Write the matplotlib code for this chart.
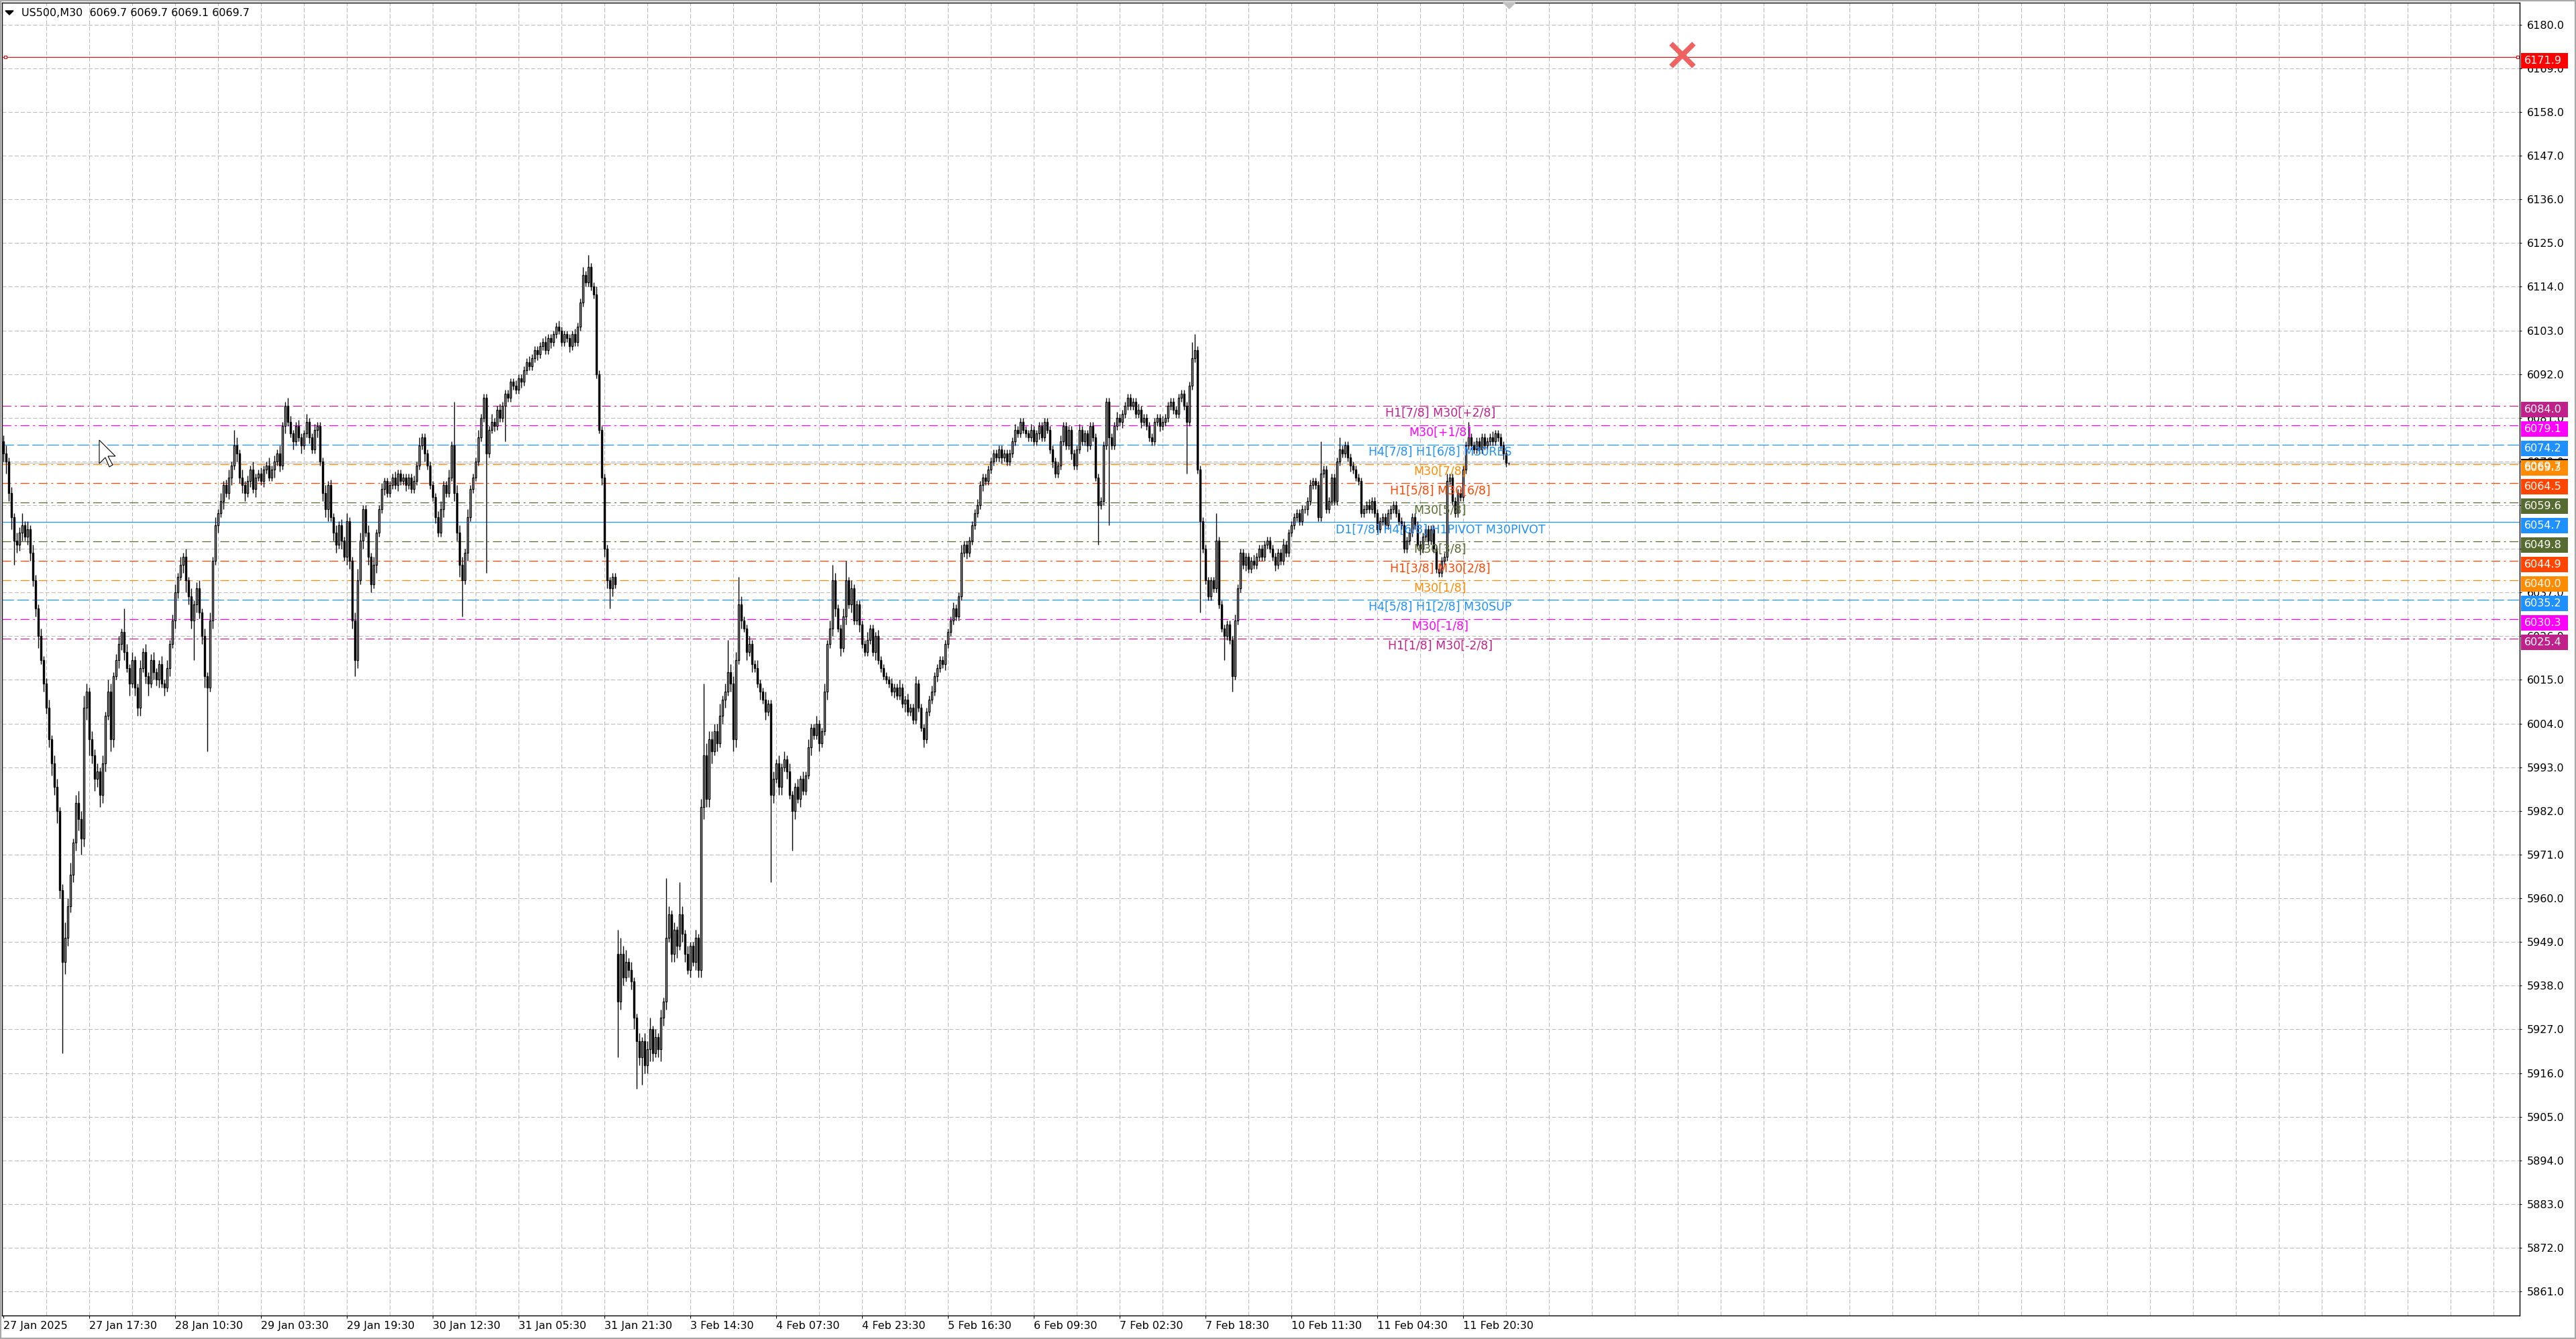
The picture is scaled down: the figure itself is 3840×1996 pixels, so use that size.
import matplotlib
matplotlib.use("Agg")
import matplotlib.pyplot as plt
import matplotlib.transforms as mtransforms
from matplotlib.patches import Rectangle, Polygon

plt.rcParams['font.family'] = ['DejaVu Sans']
plt.rcParams['lines.scale_dashes'] = False

title_text = "US500,M30  6069.7 6069.7 6069.1 6069.7"

# M30 closes, one per bar
closes = [
    6072, 6070, 6062, 6056, 6050, 6049, 6052, 6054, 6051, 6053,
    6047, 6040, 6033, 6026, 6020, 6014, 6008, 6000, 5994, 5988,
    5982, 5962, 5944, 5950, 5958, 5966, 5974, 5984, 5980, 5975,
    6008, 6012, 6000, 5996, 5990, 5992, 5986, 5994, 6006, 6012,
    6000, 6016, 6020, 6024, 6027, 6022, 6018, 6014, 6020, 6013,
    6008, 6018, 6022, 6016, 6014, 6020, 6017, 6015, 6019, 6014,
    6013, 6018, 6024, 6030, 6037, 6041, 6044, 6046, 6040, 6036,
    6030, 6034, 6038, 6032, 6026, 6016, 6013, 6030, 6045, 6054,
    6057, 6060, 6064, 6062, 6066, 6069, 6074, 6072, 6066, 6064,
    6062, 6065, 6068, 6063, 6066, 6067, 6065, 6068, 6069, 6066,
    6068, 6070, 6072, 6069, 6079, 6084, 6080, 6077, 6075, 6079,
    6076, 6074, 6077, 6080, 6076, 6073, 6078, 6079, 6070, 6062,
    6058, 6064, 6056, 6052, 6049, 6054, 6050, 6046, 6055, 6045,
    6030, 6020, 6040, 6050, 6058, 6052, 6046, 6039, 6044, 6052,
    6058, 6063, 6065, 6062, 6064, 6066, 6064, 6067, 6065, 6066,
    6064, 6066, 6063, 6065, 6069, 6074, 6076, 6072, 6069, 6064,
    6061, 6056, 6052, 6058, 6064, 6062, 6066, 6074, 6062, 6052,
    6044, 6040, 6047, 6056, 6063, 6066, 6070, 6076, 6081, 6086,
    6072, 6078, 6080, 6079, 6083, 6081, 6084, 6087, 6086, 6090,
    6089, 6088, 6091, 6090, 6093, 6095, 6094, 6096, 6098, 6097,
    6099, 6100, 6098, 6101, 6100, 6102, 6104, 6103, 6100, 6102,
    6101, 6099, 6102, 6100, 6104, 6110, 6117, 6115, 6119, 6114,
    6112, 6092, 6078, 6066, 6048, 6040, 6038, 6041, 6039, 5934,
    5946, 5940, 5944, 5942, 5939, 5930, 5924, 5920, 5924, 5918,
    5922, 5927, 5921, 5925, 5922, 5930, 5934, 5950, 5956, 5946,
    5952, 5948, 5956, 5951, 5946, 5942, 5948, 5944, 5950, 5942,
    5983, 5996, 5985, 6000, 5997, 6002, 5999, 6006, 6010, 6012,
    6017, 6014, 6000, 6020, 6034, 6030, 6028, 6022, 6024, 6019,
    6018, 6014, 6012, 6010, 6007, 6009, 5986, 5990, 5994, 5988,
    5993, 5995, 5992, 5986, 5982, 5988, 5985, 5990, 5987, 5991,
    5998, 6003, 6001, 6004, 5999, 6002, 6012, 6024, 6028, 6040,
    6033, 6028, 6023, 6031, 6040, 6034, 6038, 6030, 6034, 6029,
    6024, 6022, 6025, 6028, 6022, 6026, 6020, 6018, 6016, 6015,
    6014, 6012, 6013, 6011, 6013, 6009, 6010, 6007, 6008, 6005,
    6014, 6008, 6003, 6000, 6007, 6010, 6012, 6016, 6018, 6020,
    6019, 6024, 6027, 6030, 6033, 6031, 6036, 6047, 6049, 6047,
    6050, 6054, 6057, 6059, 6064, 6066, 6065, 6068, 6070, 6072,
    6071, 6073, 6071, 6072, 6070, 6072, 6075, 6078, 6077, 6080,
    6078, 6077, 6076, 6078, 6075, 6077, 6079, 6076, 6080, 6078,
    6073, 6070, 6067, 6069, 6075, 6079, 6074, 6078, 6072, 6069,
    6073, 6078, 6075, 6077, 6074, 6079, 6076, 6066, 6059, 6060,
    6074, 6085, 6076, 6074, 6079, 6081, 6080, 6082, 6084, 6086,
    6084, 6085, 6082, 6083, 6080, 6081, 6079, 6076, 6075, 6080,
    6081, 6079, 6080, 6081, 6084, 6085, 6083, 6082, 6086, 6087,
    6084, 6080, 6089, 6096, 6098, 6068, 6055, 6048, 6040, 6036,
    6040, 6038, 6050, 6034, 6028, 6026, 6029, 6025, 6016, 6030,
    6038, 6047, 6044, 6046, 6043, 6045, 6044, 6046, 6048, 6046,
    6049, 6050, 6048, 6046, 6044, 6047, 6045, 6049, 6047, 6052,
    6054, 6056, 6057, 6055, 6058, 6058, 6060, 6064, 6065, 6064,
    6056, 6067, 6068, 6058, 6060, 6066, 6060, 6070, 6073, 6072,
    6074, 6071, 6069, 6068, 6066, 6065, 6057, 6058, 6059, 6058,
    6060, 6057, 6053, 6055, 6056, 6054, 6057, 6058, 6059, 6057,
    6055, 6054, 6048, 6050, 6052, 6056, 6054, 6049, 6048, 6051,
    6053, 6050, 6053, 6048, 6043, 6042, 6045, 6046, 6065, 6066,
    6060, 6057, 6062, 6061, 6068, 6074, 6076, 6074, 6073, 6075,
    6073, 6076, 6074, 6075, 6076, 6075, 6077, 6076, 6074, 6072,
    6069.7, 6069.7,
]

# upper / lower shadow length in points above/below the body
wick_up = [
    1.5, 2, 1, 1.5, 1, 2, 1.5, 3, 1, 2,
    1, 2, 1.5, 1, 2, 1, 1.5, 2, 1, 2,
    2, 1, 1.5, 4, 2, 3, 1, 2, 3, 2,
    3, 2, 1, 2, 1.5, 2, 1, 2, 1, 3,
    2, 1, 1.5, 2, 1, 6, 2, 1, 2, 1,
    1, 2, 1, 2, 1, 1.5, 2, 1, 1, 2,
    1, 2, 1, 1.5, 2, 1, 2, 1, 2, 1,
    2, 1, 1.5, 2, 1, 2, 1, 2, 1, 2,
    1, 2, 1, 1.5, 2, 1, 4, 2, 1, 2,
    1, 1.5, 1, 2, 1, 1, 1.5, 1, 1, 2,
    1, 1.5, 1, 2, 1, 1, 2, 1.5, 1, 1,
    1.5, 1, 1, 2, 1, 1, 1.5, 1, 1, 1,
    2, 1, 1.5, 1, 2, 1, 1.5, 1, 2, 1,
    1, 2, 3, 2, 1, 1, 2, 1, 2, 1,
    1, 1.5, 1, 1, 1, 1, 1.5, 1, 1, 1,
    1, 1, 1, 1.5, 1, 2, 1, 1, 1, 1,
    1, 1, 1.5, 2, 1, 1, 2, 1, 11, 2,
    2, 2, 1, 2, 1, 1, 1, 2, 1, 1,
    1, 1, 2, 1, 1, 1.5, 1, 1, 1, 1,
    1, 1.5, 1, 1, 1, 1, 1.5, 1, 1, 1,
    1, 1, 1.5, 1, 1, 1, 1, 1.5, 1, 1,
    1, 1, 1, 1.5, 1, 1, 2, 1, 3, 1,
    1, 2, 1, 1, 1, 1, 1, 1, 1, 6,
    4, 2, 3, 1, 2, 1, 1, 2, 1, 2,
    2, 3, 1, 2, 1, 2, 1, 15, 2, 1,
    2, 1, 8, 2, 1, 2, 1, 1, 2, 1,
    2, 18, 3, 2, 2, 2, 2, 3, 1, 2,
    8, 2, 2, 2, 7, 2, 1, 1, 2, 1,
    1, 2, 1, 1, 2, 1, 1, 2, 1, 2,
    1, 2, 1, 2, 1, 1, 2, 1, 2, 1,
    2, 1, 1, 2, 1, 1, 2, 1, 2, 4,
    2, 1, 1, 2, 5, 1, 2, 1, 1, 1,
    1, 1, 2, 1, 1, 1, 1.5, 1, 1, 1,
    1, 1.5, 1, 1, 2, 1, 1, 1.5, 1, 1,
    2, 1, 1, 1, 1, 1, 1.5, 1, 1, 1,
    1, 1, 1, 1, 1.5, 1, 1, 2, 1, 1,
    1, 1, 1, 1.5, 1, 1, 1, 1, 1, 1,
    1, 1, 1, 1, 1, 1, 1, 1.5, 1, 1,
    1, 1, 1, 1.5, 1, 1, 1, 1, 1, 1,
    1, 1, 1, 1, 1.5, 1, 1, 1, 1, 1,
    1, 1.5, 1, 1, 1, 1, 1, 1, 1, 1,
    1, 1, 1, 1, 1, 1.5, 1, 1, 1, 1,
    1, 1, 1, 1.5, 1, 1, 1, 1, 1, 1,
    1, 1, 1.5, 1, 1, 1, 1, 1, 1, 1,
    1, 1, 1, 4, 4, 1, 1, 1, 1, 1,
    1, 1, 7, 1, 1, 1, 1, 1, 1, 1.5,
    1, 1, 1, 1, 1, 1, 1.5, 1, 1, 1,
    1, 1, 1, 1, 1, 1, 1, 1.5, 1, 1,
    1, 1, 1, 1, 1, 1, 1, 1.5, 1, 1,
    1, 8, 1, 1, 1, 1, 1, 1, 3, 1,
    1, 1, 1, 1, 1, 1, 1, 1, 1, 1.5,
    1, 1, 1, 1, 1, 1, 1, 1, 1, 1,
    1, 1, 1, 1, 1.5, 1, 1, 1, 1, 1,
    1, 1, 1, 1, 1, 1, 1, 1, 2, 1,
    1, 1, 1, 1, 1, 1, 4, 1, 1, 1,
    1, 1, 1, 1, 1, 1.5, 1, 1, 1, 1,
    1, 0,
]
wick_dn = [
    2, 3, 2, 3, 6, 2, 1.5, 2, 1, 2,
    2, 1.5, 2, 3, 1, 2, 1.5, 2, 3, 2,
    3, 2, 23, 3, 2, 1.5, 2, 2, 3, 4,
    2, 3, 4, 2, 3, 2, 3, 2, 2, 1,
    3, 2, 1, 2, 1.5, 2, 1, 3, 1, 2,
    2, 2, 1, 2, 3, 1, 2, 1.5, 2, 1,
    2, 1, 2, 1, 2, 1.5, 1, 2, 3, 2,
    2, 10, 2, 1.5, 2, 3, 16, 1, 2, 1,
    2, 1, 2, 1, 1.5, 2, 1, 2, 1.5, 2,
    2, 1, 1.5, 1, 2, 1, 1, 1.5, 1, 1,
    1, 2, 1, 1.5, 1, 2, 1, 1, 2, 1,
    1, 2, 1, 1, 1.5, 1, 1, 2, 1, 2,
    2, 3, 1, 2, 2, 1, 2, 1, 2, 2,
    2, 4, 2, 1, 2, 1, 2, 2, 1, 2,
    1, 1, 1.5, 1, 1, 1, 1, 1.5, 1, 1,
    1.5, 1, 1, 1, 1, 1, 1, 2, 1, 1,
    1, 1.5, 1, 1, 2, 1, 1, 1, 2, 2,
    3, 9, 1, 2, 1, 1, 1, 1, 1, 1,
    30, 1, 1, 1.5, 1, 1, 1, 9, 1, 1,
    1, 1, 1, 1.5, 1, 1, 1, 1, 1, 1.5,
    1, 1, 1, 1, 1.5, 1, 1, 1, 1, 1,
    1, 1.5, 1, 1, 1, 1, 1, 1, 1, 1,
    1, 1, 1, 2, 2, 2, 5, 2, 1, 14,
    2, 2, 1, 2, 2, 3, 12, 2, 7, 2,
    2, 3, 2, 1, 2, 3, 2, 2, 1, 2,
    2, 3, 1, 2, 2, 1, 2, 1, 2, 2,
    2, 3, 2, 2, 3, 1, 2, 1, 2, 2,
    1, 2, 3, 2, 1, 2, 1, 2, 1, 2,
    1, 1, 2, 1, 2, 1, 22, 2, 1, 2,
    2, 1, 2, 1, 10, 2, 1, 2, 1, 1,
    1, 2, 1, 1, 2, 1, 1, 2, 1, 2,
    2, 1, 2, 1, 2, 1, 2, 1, 1, 2,
    1, 1, 1, 1, 1, 2, 1, 1, 1, 1,
    1, 1, 1.5, 1, 1, 1, 2, 1, 1, 1,
    1, 1, 1, 2, 1, 1, 1, 1, 1.5, 1,
    1, 1.5, 1, 1, 1, 1, 1, 1, 1, 1.5,
    1, 1, 1, 1, 1, 1.5, 1, 1, 1, 1,
    1, 1, 1.5, 1, 1, 1, 1, 1, 1, 1,
    1, 1, 1, 1, 1, 1, 1.5, 1, 1, 1,
    1, 1.5, 1, 1, 1, 1, 1, 1, 1.5, 1,
    1, 1, 1, 1, 1.5, 1, 1, 1, 10, 1,
    1, 1, 22, 1, 1, 1, 1, 1.5, 1, 1,
    1, 1, 1, 1, 1.5, 1, 1, 1, 1, 1,
    1, 1.5, 1, 1, 1, 1, 1, 1, 1, 1,
    1, 13, 1, 1, 1, 1, 23, 1, 1, 1,
    1, 1, 1, 1, 1, 6, 1, 1, 4, 1,
    1, 1, 1, 1.5, 1, 1, 1, 1, 1, 1,
    1, 1, 1, 1, 1.5, 1, 1, 1, 1, 1,
    1, 1, 1, 1, 1, 1, 1.5, 1, 1, 1,
    1, 1, 1, 1, 1, 1, 1, 1, 1, 1,
    1, 1, 1.5, 1, 1, 1, 1, 1, 1, 1,
    1, 1, 1, 1, 1, 1, 1, 1.5, 1, 1,
    1, 1, 1, 1, 1, 1, 1, 1, 1.5, 1,
    1, 1, 1, 1, 1, 1, 1, 1, 1, 1,
    1, 1, 1, 1, 1, 1, 1, 1, 1, 1,
    1, 1, 1, 1, 1, 1, 1, 1, 1, 1.5,
    1, 0.6,
]

# opens where the bar does not start at the previous close (start, weekend gap)
session_opens = {0: 6075.0, 229: 5946.0}

time_labels = ["27 Jan 2025", "27 Jan 17:30", "28 Jan 10:30", "29 Jan 03:30",
               "29 Jan 19:30", "30 Jan 12:30", "31 Jan 05:30", "31 Jan 21:30",
               "3 Feb 14:30", "4 Feb 07:30", "4 Feb 23:30", "5 Feb 16:30",
               "6 Feb 09:30", "7 Feb 02:30", "7 Feb 18:30", "10 Feb 11:30",
               "11 Feb 04:30", "11 Feb 20:30"]
bars_per_label = 32
bars_per_grid = 16

price_ticks = [6180.0, 6169.0, 6158.0, 6147.0, 6136.0, 6125.0, 6114.0, 6103.0,
               6092.0, 6081.0, 6070.0, 6059.0, 6048.0, 6037.0, 6026.0, 6015.0,
               6004.0, 5993.0, 5982.0, 5971.0, 5960.0, 5949.0, 5938.0, 5927.0,
               5916.0, 5905.0, 5894.0, 5883.0, 5872.0, 5861.0]

levels = [6084.0, 6079.1, 6074.2, 6069.3, 6064.5, 6059.6, 6054.7,
          6049.8, 6044.9, 6040.0, 6035.2, 6030.3, 6025.4]
level_names = ["H1[7/8] M30[+2/8]", "M30[+1/8]", "H4[7/8] H1[6/8] M30RES",
               "M30[7/8]", "H1[5/8] M30[6/8]", "M30[5/8]",
               "D1[7/8] H4[6/8] H1PIVOT M30PIVOT", "M30[3/8]",
               "H1[3/8] M30[2/8]", "M30[1/8]", "H4[5/8] H1[2/8] M30SUP",
               "M30[-1/8]", "H1[1/8] M30[-2/8]"]
level_colors = ["#c0208a", "#ff00ff", "#1e90ff", "#ff8c00", "#ff4500",
                "#556b2f", "#1e90ff", "#556b2f", "#ff4500", "#ff8c00",
                "#1e90ff", "#ff00ff", "#c0208a"]
level_kinds = ["dashdot", "dashdot", "dash", "dashdot", "dashdot", "dashdot",
               "solid", "dashdot", "dashdot", "dashdot", "dash", "dashdot",
               "dashdot"]
label_bar = 535.5

alert_price = 6171.9
bid_price = 6069.7
closed_order = (625.75, 6172.4)

n = len(closes)
opens = [session_opens.get(i, closes[i - 1] if i else closes[0]) for i in range(n)]
highs = [max(o, c) + u for o, c, u in zip(opens, closes, wick_up)]
lows = [min(o, c) - d for o, c, d in zip(opens, closes, wick_dn)]

W, H = 3840, 1996
fig = plt.figure(figsize=(W / 100, H / 100), dpi=100)
ax_l, ax_r, ax_t, ax_b = 3, 3756, 4, 1961
ax = fig.add_axes([ax_l / W, (H - ax_b) / H, (ax_r - ax_l) / W, (ax_b - ax_t) / H])
ymin, ymax = 5854.95, 6185.52
ax.set_xlim(-0.5, 937.75)
ax.set_ylim(ymin, ymax)
px_per_pt = (ax_b - ax_t) / (ymax - ymin)

for s in ax.spines.values():
    s.set_color("black")
    s.set_linewidth(1.0)

# grid
grid_kw = dict(color="#bdbdbd", lw=0.8, linestyle=(0, (4.4, 2.2)), zorder=0)
for gx in range(bars_per_grid, 938, bars_per_grid):
    ax.axvline(gx, **grid_kw)
for gy in price_ticks:
    ax.axhline(gy, **grid_kw)

# level lines
styles = {"dashdot": (0, (9.5, 4, 2, 4)), "dash": (0, (12.5, 3.6)), "solid": "-"}
for lv, col, kind in zip(levels, level_colors, level_kinds):
    ax.axhline(lv, color=col, lw=0.9, linestyle=styles[kind], zorder=1)
ax.axhline(bid_price, color="#c8c8c8", lw=0.9, zorder=1)
ax.axhline(alert_price, color="#c42020", lw=0.9, zorder=1)

# candles
xs = list(range(n))
ax.vlines(xs, lows, highs, color="black", lw=1.0, zorder=3)
bottoms = [min(o, c) for o, c in zip(opens, closes)]
heights = [abs(c - o) for o, c in zip(opens, closes)]
fills = ["white" if c > o else "black" for o, c in zip(opens, closes)]
ax.bar(xs, heights, bottom=bottoms, width=0.6, color=fills,
       edgecolor="black", linewidth=1.0, zorder=4)

# level captions
cap_tr = mtransforms.offset_copy(ax.transData, fig=fig, x=0, y=-11, units="dots")
for lv, name, col in zip(levels, level_names, level_colors):
    ax.text(label_bar, lv, name, color=col, fontsize=12.5, ha="center",
            va="center", transform=cap_tr, zorder=6)

# closed order cross and alert end squares
ax.plot([closed_order[0]], [closed_order[1]], marker="x", ms=24, mew=5.5,
        color="#f06262", zorder=7)
bt = mtransforms.blended_transform_factory(ax.transAxes, ax.transData)
ax.plot([0.0012, 0.9992], [alert_price, alert_price], ls="none", marker="s",
        ms=3.2, mfc="white", mec="#c42020", mew=0.9, transform=bt,
        clip_on=False, zorder=7)

# chart shift marker at the top
st = mtransforms.blended_transform_factory(ax.transData, ax.transAxes)
tri_h = 9 / (ax_b - ax_t)
ax.add_patch(Polygon([(n - 0.8 - 2.2, 1.0), (n - 0.8 + 2.2, 1.0), (n - 0.8, 1.0 - tri_h)],
                     closed=True, transform=st, color="#c0c0c0", clip_on=False,
                     zorder=8))

# axes ticks
ax.set_yticks(price_ticks)
ax.set_yticklabels([f"{v:.1f}" for v in price_ticks])
ax.yaxis.tick_right()
ax.tick_params(axis="y", direction="out", length=2.5, width=0.8, pad=5.5,
               labelsize=11.5, colors="black")
label_pos = [i * bars_per_label for i in range(len(time_labels))]
ax.set_xticks(label_pos)
ax.set_xticklabels(time_labels, ha="left")
ax.tick_params(axis="x", direction="out", length=3, width=0.8, pad=3,
               labelsize=11.5, colors="black")

# price tags on the right scale (drawn a few pixels below their line, as MT4 does)
ax_w = ax_r - ax_l
tag_x = (ax_r + 2 - ax_l) / ax_w
tag_w = 70 / ax_w
tag_h = 23 / px_per_pt
tag_drop = 5.5 / px_per_pt
text_x = (ax_r + 7 - ax_l) / ax_w


def price_tag(price, color):
    yc = price - tag_drop
    ax.add_patch(Rectangle((tag_x, yc - tag_h / 2), tag_w, tag_h, transform=bt,
                           facecolor=color, edgecolor="none", clip_on=False,
                           zorder=9))
    ax.text(text_x, yc, f"{price:.1f}", color="white", fontsize=11.5,
            ha="left", va="center", transform=bt, clip_on=False, zorder=10)


price_tag(alert_price, "#ff0000")
price_tag(bid_price, "black")
for lv, col in zip(levels, level_colors):
    price_tag(lv, col)

# header line
fig.text(32 / W, 1 - 19 / H, title_text, fontsize=11.5, ha="left", va="center")
fig.add_artist(Polygon([(8 / W, 1 - 16 / H), (20 / W, 1 - 16 / H), (14 / W, 1 - 22 / H)],
                       closed=True, transform=fig.transFigure, color="black"))

# mouse pointer
tip = (148, 656)
arrow = [(0, 0), (0, 35), (9, 26), (15, 40), (20, 37), (13, 24), (24, 24)]
fig.add_artist(Polygon([((tip[0] + dx) / W, 1 - (tip[1] + dy) / H) for dx, dy in arrow],
                       closed=True, transform=fig.transFigure, facecolor="white",
                       edgecolor="black", lw=0.8, zorder=20))

# window frame
fig.add_artist(Rectangle((0, 0), 1, 1, transform=fig.transFigure, fill=False,
                         edgecolor="#a8a8a8", lw=3))

fig.savefig("out.png", dpi=100, facecolor="white")
